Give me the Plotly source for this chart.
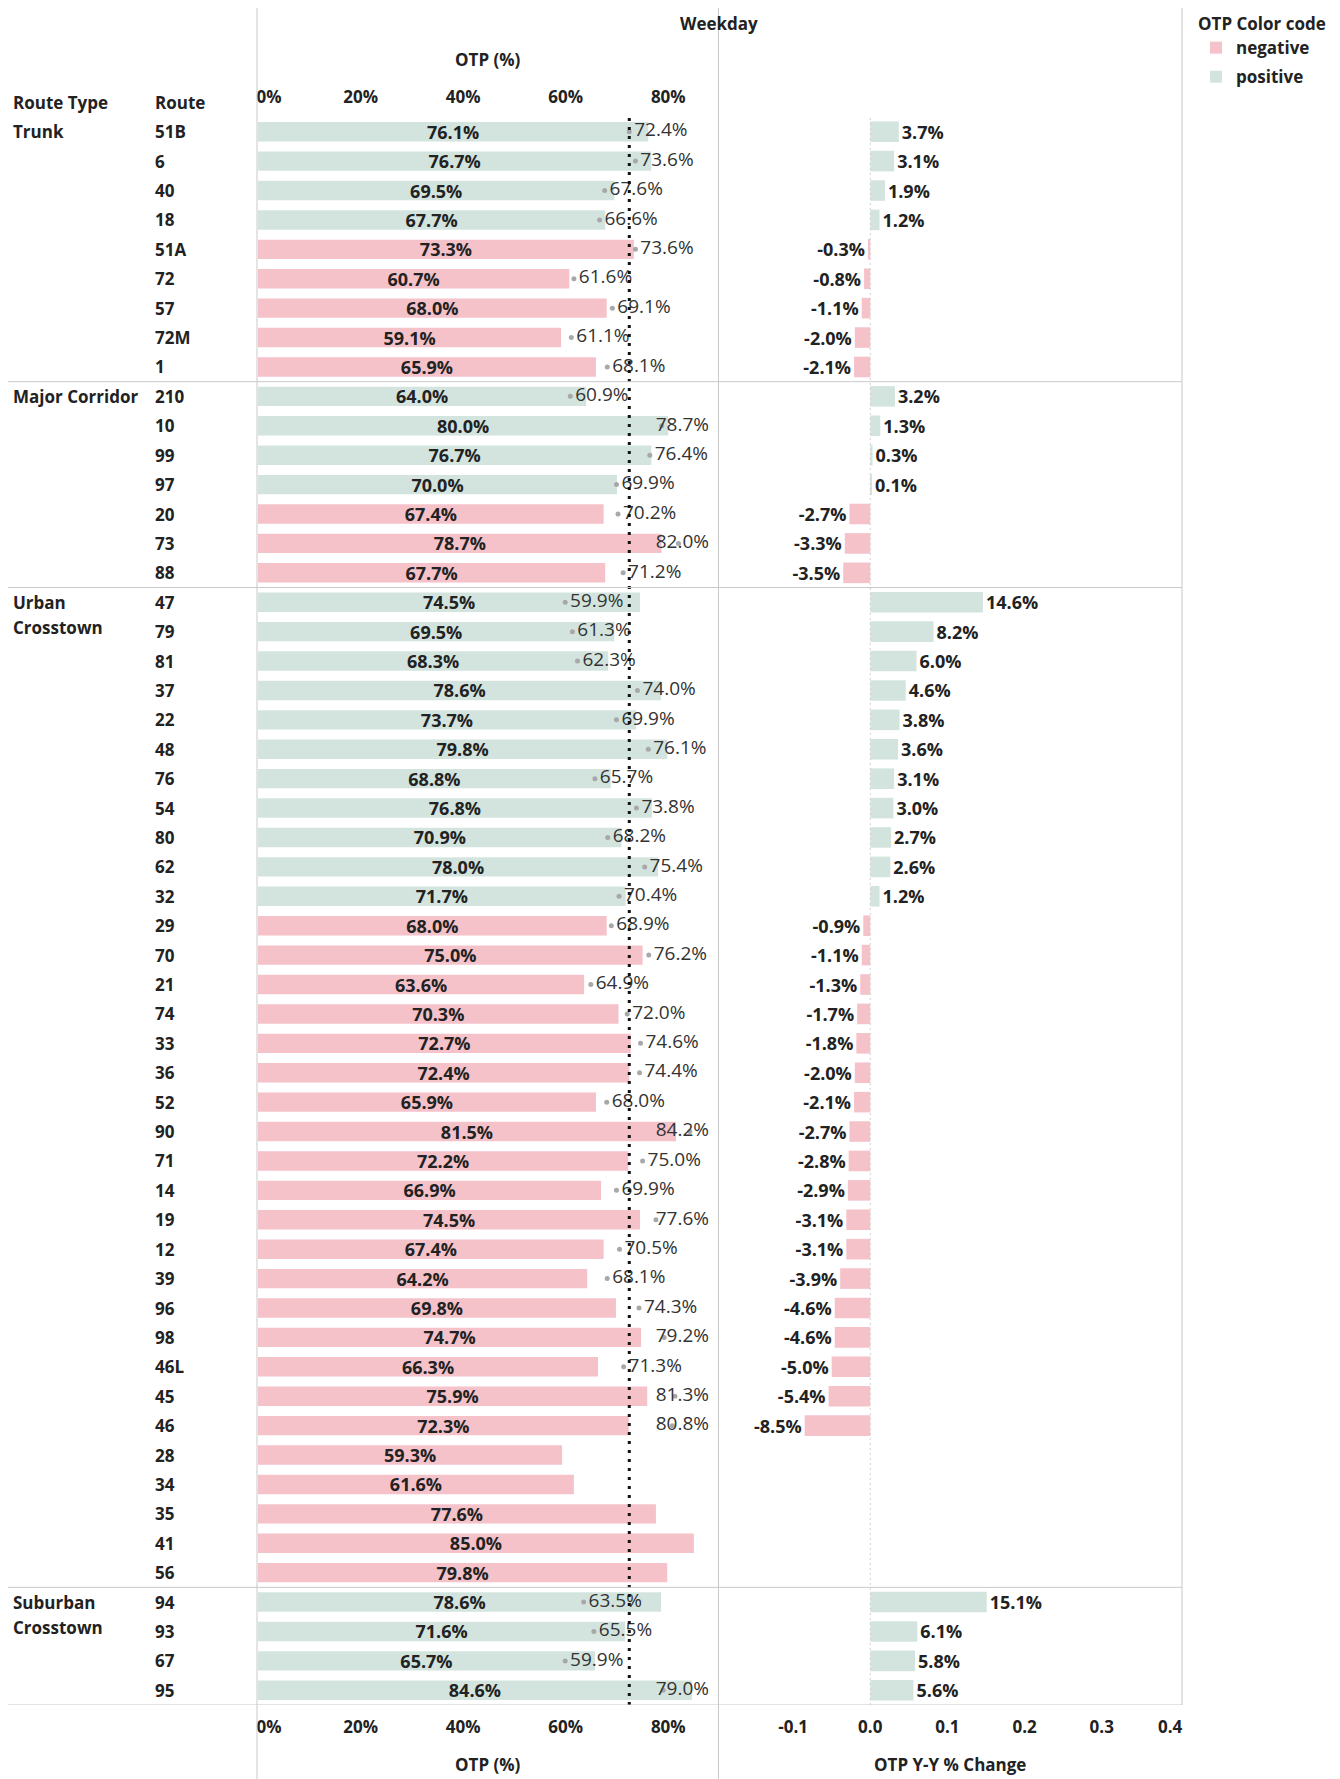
import plotly.graph_objects as go

# ---------------- data ----------------
routes = ["51B", "6", "40", "18", "51A", "72", "57", "72M", "1",
          "210", "10", "99", "97", "20", "73", "88",
          "47", "79", "81", "37", "22", "48", "76", "54", "80", "62", "32",
          "29", "70", "21", "74", "33", "36", "52", "90", "71", "14", "19",
          "12", "39", "96", "98", "46L", "45", "46", "28", "34", "35", "41", "56",
          "94", "93", "67", "95"]
route_type_names = ["Trunk", "Major Corridor", "Urban Crosstown", "Suburban Crosstown"]
route_type_sizes = [9, 7, 34, 4]
otp_current = [76.1, 76.7, 69.5, 67.7, 73.3, 60.7, 68.0, 59.1, 65.9,
               64.0, 80.0, 76.7, 70.0, 67.4, 78.7, 67.7,
               74.5, 69.5, 68.3, 78.6, 73.7, 79.8, 68.8, 76.8, 70.9, 78.0, 71.7,
               68.0, 75.0, 63.6, 70.3, 72.7, 72.4, 65.9, 81.5, 72.2, 66.9, 74.5,
               67.4, 64.2, 69.8, 74.7, 66.3, 75.9, 72.3, 59.3, 61.6, 77.6, 85.0, 79.8,
               78.6, 71.6, 65.7, 84.6]
otp_previous = [72.4, 73.6, 67.6, 66.6, 73.6, 61.6, 69.1, 61.1, 68.1,
                60.9, 78.7, 76.4, 69.9, 70.2, 82.0, 71.2,
                59.9, 61.3, 62.3, 74.0, 69.9, 76.1, 65.7, 73.8, 68.2, 75.4, 70.4,
                68.9, 76.2, 64.9, 72.0, 74.6, 74.4, 68.0, 84.2, 75.0, 69.9, 77.6,
                70.5, 68.1, 74.3, 79.2, 71.3, 81.3, 80.8, None, None, None, None, None,
                63.5, 65.5, 59.9, 79.0]
otp_change = [3.7, 3.1, 1.9, 1.2, -0.3, -0.8, -1.1, -2.0, -2.1,
              3.2, 1.3, 0.3, 0.1, -2.7, -3.3, -3.5,
              14.6, 8.2, 6.0, 4.6, 3.8, 3.6, 3.1, 3.0, 2.7, 2.6, 1.2,
              -0.9, -1.1, -1.3, -1.7, -1.8, -2.0, -2.1, -2.7, -2.8, -2.9, -3.1,
              -3.1, -3.9, -4.6, -4.6, -5.0, -5.4, -8.5, None, None, None, None, None,
              15.1, 6.1, 5.8, 5.6]
reference_otp = 72.4
otp_ticks = [0, 20, 40, 60, 80]
otp_tick_labels = ["0%", "20%", "40%", "60%", "80%"]
change_ticks = [-0.1, 0.0, 0.1, 0.2, 0.3, 0.4]
change_tick_labels = ["-0.1", "0.0", "0.1", "0.2", "0.3", "0.4"]

# ---------------- style ----------------
OFF = 8                      # default page margin of the html body
W, H = 1340 - OFF, 1779 - OFF
PINK = "#f5c2ca"
GREEN = "#d3e4de"
TXT = "#222222"
FONT = "Open Sans"
FS = 17        # plain text
FN = 18        # numbers
FP = 19        # previous-year labels
LABEL_MAX = 76.6
NB = "\u00a0"


def px(v):
    return (v - OFF) / W


def py(v):
    return 1 - (v - OFF) / H


N = len(routes)
rows = list(range(N))
is_pos = [c is not None and c > 0 for c in otp_change]

# edge tick labels kept inside their pane (as the original tool does)
otp_tick_text = [NB * 5 + t if k == 0 else t for k, t in enumerate(otp_tick_labels)]
chg_tick_text = [t + NB * 4 if k == len(change_tick_labels) - 1 else t
                 for k, t in enumerate(change_tick_labels)]

fig = go.Figure()

for flag, name, color in [(False, "negative", PINK), (True, "positive", GREEN)]:
    idx = [i for i in rows if is_pos[i] == flag]
    fig.add_trace(go.Bar(
        x=[otp_current[i] for i in idx], y=idx, orientation="h",
        marker=dict(color=color, line=dict(width=0)), width=0.66,
        text=[f"{otp_current[i]:.1f}%" for i in idx],
        textposition="inside", insidetextanchor="middle", textangle=0,
        constraintext="none",
        insidetextfont=dict(family=FONT, size=FN, color=TXT, weight="bold"),
        name=name, legendgroup=name, showlegend=True,
        xaxis="x", yaxis="y", hoverinfo="skip"))
    cidx = [i for i in idx if otp_change[i] is not None]
    fig.add_trace(go.Bar(
        x=[otp_change[i] / 100 for i in cidx], y=cidx, orientation="h",
        marker=dict(color=color, line=dict(width=0)), width=0.7,
        text=[f"{otp_change[i]:.1f}%" for i in cidx],
        textposition="outside", textangle=0, constraintext="none",
        outsidetextfont=dict(family=FONT, size=FN, color=TXT, weight="bold"),
        cliponaxis=False, name=name, legendgroup=name, showlegend=False,
        xaxis="x2", yaxis="y", hoverinfo="skip"))

pidx = [i for i in rows if otp_previous[i] is not None]
fig.add_trace(go.Scatter(
    x=[otp_previous[i] for i in pidx], y=pidx, mode="markers",
    marker=dict(size=5, color="#a8a8a8"), showlegend=False,
    xaxis="x", yaxis="y", hoverinfo="skip"))
fig.add_trace(go.Scatter(
    x=[min(otp_previous[i], LABEL_MAX) for i in pidx], y=pidx, mode="text",
    text=[f" {otp_previous[i]:.1f}%" for i in pidx], textposition="middle right",
    textfont=dict(family=FONT, size=FP, color="#333333"),
    showlegend=False, cliponaxis=False, xaxis="x", yaxis="y", hoverinfo="skip"))
# invisible trace carrying the top axis
fig.add_trace(go.Scatter(x=[0], y=[0], mode="markers", marker=dict(opacity=0),
                         showlegend=False, xaxis="x3", yaxis="y", hoverinfo="skip"))

y_dom = [py(1705), py(117)]
x1_dom = [px(258), px(718)]
x2_dom = [px(719), px(1182)]
tickfont = dict(family=FONT, size=FS, color=TXT, weight="bold")

fig.update_layout(
    width=W, height=H, margin=dict(l=0, r=0, t=0, b=0, autoexpand=False),
    paper_bgcolor="white", plot_bgcolor="white", barmode="overlay",
    font=dict(family=FONT, size=FS, color=TXT),
    xaxis=dict(domain=x1_dom, range=[0, 89.7], tickvals=otp_ticks, ticktext=otp_tick_text,
               showgrid=False, zeroline=False, showline=False, ticks="",
               tickfont=tickfont, anchor="y", side="bottom", ticklabelstandoff=10),
    xaxis3=dict(domain=x1_dom, range=[0, 89.7], tickvals=otp_ticks, ticktext=otp_tick_text,
                showgrid=False, zeroline=False, showline=False, ticks="",
                tickfont=tickfont, anchor="y", side="top", overlaying="x",
                ticklabelstandoff=10),
    xaxis2=dict(domain=x2_dom, range=[-0.196, 0.404], tickvals=change_ticks,
                ticktext=chg_tick_text, showgrid=False, zeroline=False, showline=False,
                ticks="", tickfont=tickfont, anchor="y", ticklabelstandoff=10),
    yaxis=dict(domain=y_dom, range=[N - 0.5, -0.5], showticklabels=False,
               showgrid=False, zeroline=False, showline=False),
    legend=dict(x=px(1196), y=py(8), xanchor="left", yanchor="top",
                title=dict(text="OTP Color code",
                           font=dict(family=FONT, size=FS, color=TXT, weight="bold")),
                font=dict(family=FONT, size=FS, color=TXT, weight="bold"),
                bgcolor="rgba(0,0,0,0)", traceorder="grouped", tracegroupgap=4),
    showlegend=True,
)

LINE = dict(color="#c9c9c9", width=1)
shapes = [
    dict(type="line", xref="paper", yref="paper", x0=px(257), x1=px(257), y0=0, y1=1, line=LINE),
    dict(type="line", xref="paper", yref="paper", x0=px(718.5), x1=px(718.5), y0=0, y1=1, line=LINE),
    dict(type="line", xref="paper", yref="paper", x0=px(1182), x1=px(1182), y0=py(1705), y1=py(8), line=LINE),
    dict(type="line", xref="x2", yref="paper", x0=0, x1=0, y0=py(1705), y1=py(117),
         line=dict(color="#d0d0d0", width=1, dash="2px,3px")),
    dict(type="line", xref="x", yref="paper", x0=reference_otp, x1=reference_otp,
         y0=py(1705), y1=py(117), line=dict(color="#111111", width=3, dash="3px,6px")),
]
start = 0
group_starts = []
for size in route_type_sizes:
    group_starts.append(start)
    start += size
    shapes.append(dict(type="line", xref="paper", yref="y", x0=0, x1=px(1182),
                       y0=start - 0.5, y1=start - 0.5, line=LINE))
fig.update_layout(shapes=shapes)

ann = []


def add_text(text, x, y, xanchor="left", yref="paper", yshift=0, bold=True, size=FS):
    t = f"<b>{text}</b>" if bold else text
    ann.append(dict(text=t, x=x, y=y, xref="paper", yref=yref, xanchor=xanchor,
                    yanchor="middle", showarrow=False, yshift=yshift,
                    font=dict(family=FONT, size=size, color=TXT)))


for i, r in enumerate(routes):
    add_text(r, px(153), i, yref="y")
for gname, gstart in zip(route_type_names, group_starts):
    words = [gname] if gname == "Major Corridor" else gname.split(" ")
    for k, w in enumerate(words):
        add_text(w, px(11), gstart, yref="y", yshift=-25 * k)

add_text("Route Type", px(11), py(103))
add_text("Route", px(153), py(103))
add_text("Weekday", px(719), py(23), xanchor="center")
add_text("OTP (%)", px(488), py(59), xanchor="center")
add_text("OTP (%)", px(488), py(1764), xanchor="center")
add_text("OTP Y-Y % Change", px(950), py(1764), xanchor="center")
fig.update_layout(annotations=ann)

fig.write_html("out.html")
